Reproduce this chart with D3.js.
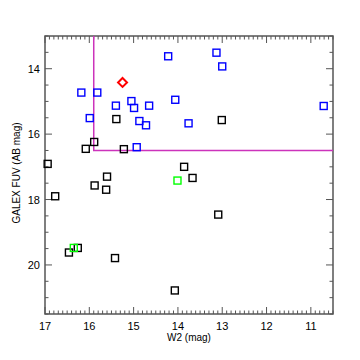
<!DOCTYPE html>
<html>
<head>
<meta charset="utf-8">
<script src="https://cdn.jsdelivr.net/npm/d3@7"></script>
<style>
  body { margin: 0; background: #fff; }
  svg { display: block; font-family: "Liberation Sans", Arial, sans-serif; }
</style>
</head>
<body>
<div id="chart"></div>
<script>
// W2 (mag) / FUV (AB mag) pairs
const blueW2 = [16.18, 15.82, 14.22, 14.06, 15.05, 14.99, 15.40, 14.65, 15.99, 14.87, 14.72, 14.93, 13.13, 13.00, 13.76, 10.71];
const blueFUV = [14.73, 14.73, 13.62, 14.95, 14.99, 15.20, 15.13, 15.13, 15.51, 15.60, 15.73, 16.40, 13.51, 13.93, 15.67, 15.14];
const blackW2 = [15.39, 15.89, 16.08, 15.22, 16.94, 15.60, 15.88, 15.62, 16.77, 13.01, 13.86, 13.67, 16.26, 16.46, 15.42, 14.07, 13.09];
const blackFUV = [15.54, 16.24, 16.45, 16.46, 16.91, 17.30, 17.57, 17.70, 17.90, 15.57, 17.00, 17.34, 19.48, 19.62, 19.79, 20.78, 18.46];
const greenW2 = [14.01, 16.35];
const greenFUV = [17.42, 19.48];
const redW2 = [15.25];
const redFUV = [14.42];
const cutW2 = 15.9;
const cutFUV = 16.5;
const xTicks = [17, 16, 15, 14, 13, 12, 11];
const yTicks = [14, 16, 18, 20];

const margin = { top: 36, right: 27, bottom: 46, left: 45 };
const width = 360 - margin.left - margin.right;
const height = 360 - margin.top - margin.bottom;
const axisColor = '#555';

const svg = d3.select('#chart').append('svg')
  .attr('width', 360).attr('height', 360)
  .append('g')
  .attr('transform', 'translate(' + margin.left + ',' + margin.top + ')');

const x = d3.scaleLinear().domain([17, 10.5]).range([0, width]);
const y = d3.scaleLinear().domain([13, 21.5]).range([0, height]);

// minor and major ticks, drawn inward on all four sides
const xMinor = d3.range(170, 104, -1).map(v => v / 10);
const yMinor = d3.range(26, 44, 1).map(v => v / 2);

const ticks = svg.append('g').attr('stroke', axisColor).attr('stroke-width', 1);
xMinor.forEach(v => {
  const major = Math.abs(v - Math.round(v)) < 1e-6;
  const len = major ? 7 : 3.5;
  ticks.append('line').attr('x1', x(v)).attr('x2', x(v)).attr('y1', height).attr('y2', height - len);
  ticks.append('line').attr('x1', x(v)).attr('x2', x(v)).attr('y1', 0).attr('y2', len);
});
yMinor.forEach(v => {
  const major = yTicks.includes(v);
  const len = major ? 7 : 3.5;
  ticks.append('line').attr('x1', 0).attr('x2', len).attr('y1', y(v)).attr('y2', y(v));
  ticks.append('line').attr('x1', width).attr('x2', width - len).attr('y1', y(v)).attr('y2', y(v));
});

svg.append('rect')
  .attr('width', width).attr('height', height)
  .attr('fill', 'none').attr('stroke', axisColor).attr('stroke-width', 1.5);

svg.append('g').selectAll('text').data(xTicks).join('text')
  .attr('x', d => x(d)).attr('y', height + 16)
  .attr('text-anchor', 'middle').attr('font-size', 11).attr('fill', '#000')
  .text(d => d);

svg.append('g').selectAll('text').data(yTicks).join('text')
  .attr('x', -5).attr('y', d => y(d) + 4)
  .attr('text-anchor', 'end').attr('font-size', 11).attr('fill', '#000')
  .text(d => d);

svg.append('text')
  .attr('x', width / 2).attr('y', height + 27)
  .attr('text-anchor', 'middle').attr('font-size', 10)
  .text('W2 (mag)');

svg.append('text')
  .attr('transform', 'translate(' + (-25) + ',' + (height / 2 - 2) + ')rotate(-90)')
  .attr('text-anchor', 'middle').attr('font-size', 10)
  .text('GALEX FUV (AB mag)');

// selection box
svg.append('path')
  .attr('d', 'M' + x(cutW2) + ',0V' + y(cutFUV) + 'H' + width)
  .attr('fill', 'none').attr('stroke', '#cc33bb').attr('stroke-width', 1.5);

function squares(w2, fuv, color) {
  svg.append('g').selectAll('rect').data(w2).join('rect')
    .attr('x', (d, i) => x(d) - 3.5)
    .attr('y', (d, i) => y(fuv[i]) - 3.5)
    .attr('width', 7).attr('height', 7)
    .attr('fill', 'none').attr('stroke', color).attr('stroke-width', 1.4);
}
squares(blackW2, blackFUV, '#000');
squares(blueW2, blueFUV, '#0000ff');
squares(greenW2, greenFUV, '#00ff00');

svg.append('g').selectAll('path').data(redW2).join('path')
  .attr('d', (d, i) => {
    const cx = x(d), cy = y(redFUV[i]), r = 4.5;
    return 'M' + cx + ',' + (cy - r) + 'L' + (cx + r) + ',' + cy + 'L' + cx + ',' + (cy + r) + 'L' + (cx - r) + ',' + cy + 'Z';
  })
  .attr('fill', 'none').attr('stroke', '#ff0000').attr('stroke-width', 2);
</script>
</body>
</html>
